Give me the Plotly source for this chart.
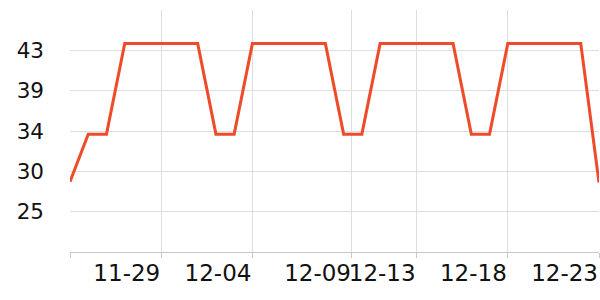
import plotly.graph_objects as go
import pandas as pd

# Data
dates = pd.date_range("2023-11-24", "2023-12-23", freq="D").strftime("%Y-%m-%d").tolist()
values = [28.6, 33.9, 33.9, 44, 44, 44, 44, 44, 33.9, 33.9,
          44, 44, 44, 44, 44, 33.9, 33.9, 44, 44, 44,
          44, 44, 33.9, 33.9, 44, 44, 44, 44, 44, 28.5]

x_tickvals = ["2023-11-24", "2023-11-29", "2023-12-04", "2023-12-09 11:00",
              "2023-12-13", "2023-12-18", "2023-12-23"]
x_ticktext = ["", "11-29", "12-04", "12-09", "12-13", "12-18", "12-23"]

y_tickvals = [25.25, 29.75, 34.25, 38.75, 43.25]
y_ticktext = ["25", "30", "34", "39", "43"]
y_range = [20.75, 47.75]

fig = go.Figure()
fig.add_trace(go.Scatter(
    x=dates, y=values, mode="lines",
    line=dict(color="#ee4b2b", width=3),
    hoverinfo="skip",
))

fig.update_layout(
    width=600, height=300,
    margin=dict(l=70, r=1, t=10, b=48),
    paper_bgcolor="white", plot_bgcolor="white",
    showlegend=False,
    font=dict(family="DejaVu Sans", color="#111111"),
)
fig.update_xaxes(
    type="date",
    range=[dates[0], dates[-1]],
    tickvals=x_tickvals, ticktext=x_ticktext,
    ticklabelposition="outside left",
    ticklabeloverflow="allow",
    tickangle=0,
    tickfont=dict(size=23),
    showgrid=True, gridcolor="#dddddd", gridwidth=1,
    showline=True, linecolor="#c8c8c8", linewidth=1,
    ticks="outside", ticklen=5, tickcolor="#c8c8c8",
    zeroline=False,
)
fig.update_yaxes(
    range=y_range,
    tickvals=y_tickvals, ticktext=y_ticktext,
    tickfont=dict(size=21.5),
    showgrid=True, gridcolor="#dddddd", gridwidth=1,
    showline=False, zeroline=False,
    ticks="", ticklabelstandoff=25,
)

fig.write_html("out.html")
